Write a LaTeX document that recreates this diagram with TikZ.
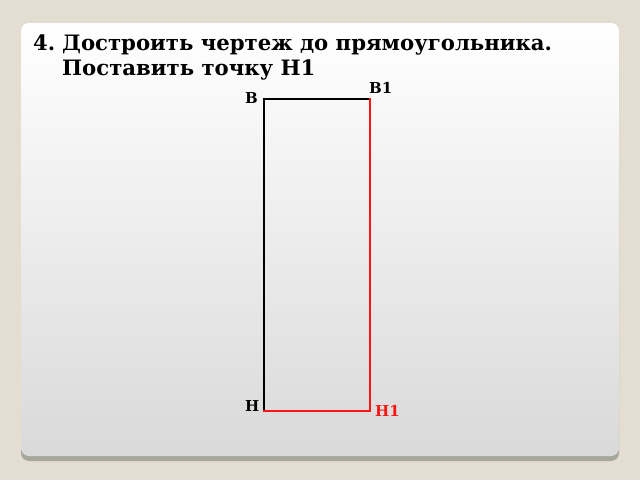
\documentclass[tikz,border=0pt]{standalone}
\usepackage{fontspec}
\setmainfont{DejaVu Serif}
\definecolor{bgbeige}{RGB}{228,221,210}
\definecolor{panelbot}{RGB}{217,217,217}
\definecolor{shadowc}{RGB}{168,167,156}
\definecolor{redline}{RGB}{255,20,20}
\tikzset{
  title/.style={anchor=base west, inner sep=0pt, font=\bfseries\fontsize{21.2}{25}\selectfont},
  lbl/.style={anchor=base west, inner sep=0pt, font=\bfseries\fontsize{15}{18}\selectfont},
  edge/.style={line width=2pt, line cap=rect}
}
\begin{document}
\begin{tikzpicture}[x=1pt,y=-1pt]
\useasboundingbox (0,0) rectangle (640,480);
\fill[bgbeige] (0,0) rectangle (640,480);
\fill[shadowc, rounded corners=8pt] (21,30) rectangle (619,461);
\shade[top color=white, bottom color=panelbot, rounded corners=8pt] (21,23) rectangle (619,456);
\node[title] (t0) at (33,50) {4.};
\node[title] (t1) at (62,50) {Достроить чертеж до прямоугольника.};
\node[title] (t2) at (62,75) {Поставить точку Н1};
\coordinate (B) at (264,99);
\coordinate (B1) at (370,99);
\coordinate (H) at (264,411);
\coordinate (H1) at (370,411);
\draw[edge, black] (H) -- (B) -- (B1);
\draw[edge, redline] (B1) -- (H1) -- (H);
\node[lbl] (lB) at (245,103) {В};
\node[lbl] (lB1) at (369,93) {В1};
\node[lbl] (lH) at (245,411) {Н};
\node[lbl, text=redline] (lH1) at (375,416) {Н1};
\end{tikzpicture}
\end{document}
